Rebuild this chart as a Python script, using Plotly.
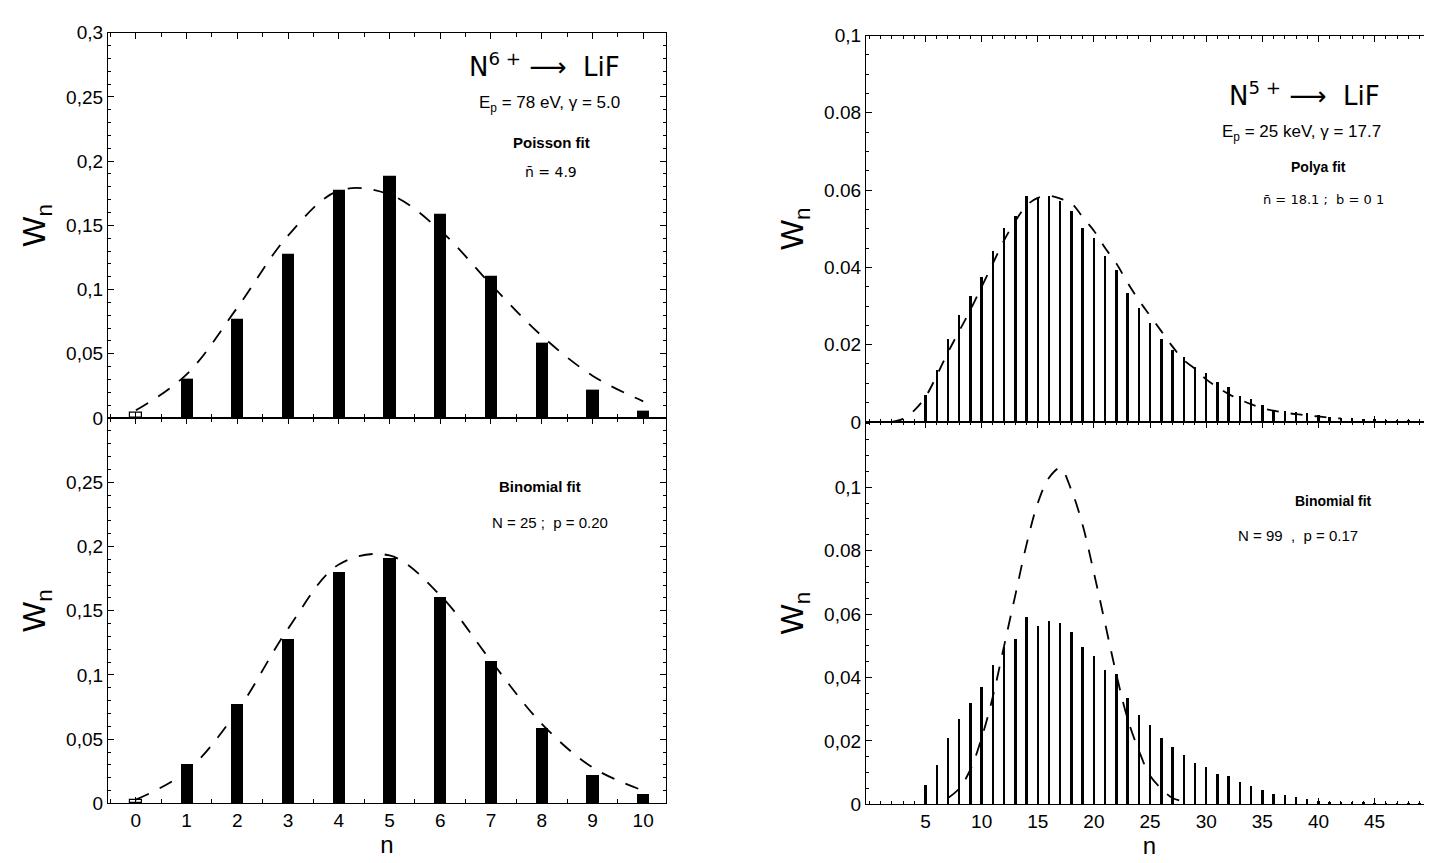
import plotly.graph_objects as go

# ---------------- data ----------------
n_left = [0, 1, 2, 3, 4, 5, 6, 7, 8, 9, 10]
w_left_top = [0.004, 0.031, 0.077, 0.128, 0.178, 0.189, 0.159, 0.111, 0.059, 0.022, 0.006]
w_left_bot = [0.003, 0.031, 0.077, 0.128, 0.180, 0.191, 0.161, 0.111, 0.059, 0.022, 0.007]
poisson_fit = [0.006, 0.034, 0.086, 0.142, 0.177, 0.174, 0.146, 0.104, 0.064, 0.033, 0.013]
binom25_fit = [0.003, 0.025, 0.072, 0.136, 0.186, 0.193, 0.162, 0.111, 0.062, 0.028, 0.010]

n_right = list(range(5, 50))
w_right_top = [0.0071, 0.0136, 0.0217, 0.0278, 0.0326, 0.0376, 0.0444, 0.0502, 0.0533, 0.0586,
               0.0581, 0.0586, 0.0574, 0.0548, 0.0502, 0.0477, 0.0431, 0.0394, 0.0334, 0.0296,
               0.0258, 0.0217, 0.0187, 0.0169, 0.0144, 0.0129, 0.0104, 0.0091, 0.0069, 0.0061,
               0.0044, 0.0031, 0.0030, 0.0027, 0.0023, 0.0020, 0.0013, 0.0012, 0.0011, 0.0009,
               0.0008, 0.0006, 0.0005, 0.0005, 0.0004]
w_right_bot = [0.0062, 0.0126, 0.0209, 0.0271, 0.0320, 0.0370, 0.0440, 0.0498, 0.0523, 0.0590,
               0.0563, 0.0580, 0.0572, 0.0544, 0.0496, 0.0468, 0.0424, 0.0412, 0.0335, 0.0283,
               0.0252, 0.0209, 0.0180, 0.0157, 0.0132, 0.0117, 0.0096, 0.0090, 0.0071, 0.0057,
               0.0047, 0.0034, 0.0031, 0.0022, 0.0017, 0.0011, 0.0009, 0.0008, 0.0008, 0.0007,
               0.0006, 0.0005, 0.0004, 0.0004, 0.0003]

n_polya = list(range(2, 43))
polya_fit = [0.0, 0.0008, 0.003, 0.0065, 0.012, 0.018, 0.0235, 0.029, 0.035, 0.041,
             0.047, 0.052, 0.056, 0.058, 0.0585, 0.0578, 0.0566, 0.053, 0.0495, 0.045,
             0.041, 0.036, 0.0315, 0.0275, 0.0235, 0.0195, 0.016, 0.0138, 0.011, 0.009,
             0.0072, 0.0058, 0.0046, 0.0036, 0.0029, 0.0024, 0.002, 0.0017, 0.0014, 0.0011,
             0.0009]

n_binom99 = list(range(7, 29))
binom99_fit = [0.002, 0.005, 0.011, 0.021, 0.034, 0.050, 0.066, 0.082, 0.095, 0.103,
               0.106, 0.099, 0.088, 0.073, 0.057, 0.041, 0.027, 0.017, 0.009, 0.005,
               0.002, 0.001]

left_y_vals = [0, 0.05, 0.1, 0.15, 0.2, 0.25, 0.3]
left_y_text = ["0", "0,05", "0,1", "0,15", "0,2", "0,25", "0,3"]
left_y_vals_bot = [0, 0.05, 0.1, 0.15, 0.2, 0.25]
left_y_text_bot = ["0", "0,05", "0,1", "0,15", "0,2", "0,25"]
right_y_vals = [0, 0.02, 0.04, 0.06, 0.08, 0.1]
right_y_text_top = ["0", "0.02", "0.04", "0.06", "0.08", "0,1"]
right_y_text_bot = ["0", "0,02", "0,04", "0,06", "0.08", "0,1"]
left_x_ticks = [0, 1, 2, 3, 4, 5, 6, 7, 8, 9, 10]
right_x_ticks = [5, 10, 15, 20, 25, 30, 35, 40, 45]

# ---------------- figure ----------------
FONT = "Liberation Sans, Arial, sans-serif"
DFONT = "DejaVu Sans, sans-serif"
W, H = 1432, 863

fig = go.Figure()

def left_bar_colors(vals):
    return ["white"] + ["black"] * (len(vals) - 1)

for vals, fit, xa, ya in [(w_left_top, poisson_fit, "x", "y"),
                          (w_left_bot, binom25_fit, "x2", "y2")]:
    fig.add_trace(go.Bar(x=n_left, y=vals, width=0.24, xaxis=xa, yaxis=ya,
                         marker=dict(color=left_bar_colors(vals),
                                     line=dict(color="black", width=[1.2] + [0] * (len(vals) - 1))),
                         showlegend=False))
    fig.add_trace(go.Scatter(x=n_left, y=fit, mode="lines", xaxis=xa, yaxis=ya,
                             line=dict(color="black", width=1.8, dash="14px,12px", shape="spline"),
                             showlegend=False))

for vals, xa, ya in [(w_right_top, "x3", "y3"), (w_right_bot, "x4", "y4")]:
    fig.add_trace(go.Bar(x=n_right, y=vals, width=0.22, xaxis=xa, yaxis=ya,
                         marker=dict(color="black", line=dict(width=0)),
                         showlegend=False))

fig.add_trace(go.Scatter(x=n_polya, y=polya_fit, mode="lines", xaxis="x3", yaxis="y3",
                         line=dict(color="black", width=1.8, dash="12px,12px", shape="spline"),
                         showlegend=False))
fig.add_trace(go.Scatter(x=n_binom99, y=binom99_fit, mode="lines", xaxis="x4", yaxis="y4",
                         line=dict(color="black", width=1.8, dash="14px,12px", shape="spline"),
                         showlegend=False))

def px_x(p):
    return p / W

def px_y(p):
    return 1 - p / H

axis_common = dict(showline=True, linecolor="black", linewidth=1.2, mirror="ticks",
                   ticks="inside", tickcolor="black", ticklen=6, showgrid=False,
                   zeroline=False, tickfont=dict(family=FONT, size=19, color="black"))

ytitle = dict(text="W<sub>n</sub>", font=dict(family=FONT, size=32), standoff=10)

dom_lx = [px_x(100), px_x(658)]
dom_rx = [px_x(858), px_x(1425)]

fig.update_layout(
    width=W, height=H,
    margin=dict(l=0, r=0, t=0, b=0),
    paper_bgcolor="white", plot_bgcolor="white",
    bargap=0,
    font=dict(family=FONT, color="black"),
    xaxis=dict(domain=dom_lx, anchor="y", range=[-0.55, 10.45], tickvals=left_x_ticks,
               showticklabels=False, minor=dict(ticks="inside", dtick=0.5, ticklen=4, tickcolor="black"),
               **axis_common),
    yaxis=dict(domain=[px_y(410), px_y(15)], anchor="x", range=[0, 0.3],
               tickvals=left_y_vals, ticktext=left_y_text,
               minor=dict(ticks="inside", dtick=0.01, ticklen=3, tickcolor="black"),
               title=ytitle, **axis_common),
    xaxis2=dict(domain=dom_lx, anchor="y2", range=[-0.55, 10.45], tickvals=left_x_ticks,
                ticktext=[str(v) for v in left_x_ticks],
                minor=dict(ticks="inside", dtick=0.5, ticklen=4, tickcolor="black"),
                title=dict(text="n", font=dict(family=FONT, size=24), standoff=0),
                **axis_common),
    yaxis2=dict(domain=[px_y(805), px_y(410)], anchor="x2", range=[0, 0.3],
                tickvals=left_y_vals_bot, ticktext=left_y_text_bot,
                minor=dict(ticks="inside", dtick=0.01, ticklen=3, tickcolor="black"),
                title=ytitle, **axis_common),
    xaxis3=dict(domain=dom_rx, anchor="y3", range=[-0.3, 50.2], tickvals=right_x_ticks,
                showticklabels=False, minor=dict(ticks="inside", dtick=1, ticklen=3, tickcolor="black"),
                **axis_common),
    yaxis3=dict(domain=[px_y(414), px_y(18)], anchor="x3", range=[0, 0.1],
                tickvals=right_y_vals, ticktext=right_y_text_top,
                minor=dict(ticks="inside", dtick=0.005, ticklen=3, tickcolor="black"),
                title=ytitle, **axis_common),
    xaxis4=dict(domain=dom_rx, anchor="y4", range=[-0.3, 50.2], tickvals=right_x_ticks,
                ticktext=[str(v) for v in right_x_ticks],
                minor=dict(ticks="inside", dtick=1, ticklen=3, tickcolor="black"),
                title=dict(text="n", font=dict(family=FONT, size=24), standoff=0),
                **axis_common),
    yaxis4=dict(domain=[px_y(806), px_y(414)], anchor="x4", range=[0, 0.1206],
                tickvals=right_y_vals, ticktext=right_y_text_bot,
                minor=dict(ticks="inside", dtick=0.005, ticklen=3, tickcolor="black"),
                title=ytitle, **axis_common),
)

def note(text, cx, cy, size, bold=False, family=FONT):
    fig.add_annotation(x=px_x(cx), y=px_y(cy), xref="paper", yref="paper",
                       text=("<b>%s</b>" % text) if bold else text, showarrow=False,
                       xanchor="center", yanchor="middle",
                       font=dict(family=family, size=size, color="black"))

ARROW = "\u27f6"
# top-left
note("N<sup>6 +</sup> " + ARROW + "  LiF", 536, 48, 26, family=DFONT)
note("E<sub>p</sub> = 78 eV, \u03b3 = 5.0", 541, 88, 17)
note("Poisson fit", 543, 128, 15, bold=True)
note("n\u0304 = 4.9", 543, 158, 14, family=DFONT)
# bottom-left
note("Binomial fit", 532, 480, 15, bold=True)
note("N = 25 ;  p = 0.20", 542, 517, 15)
# top-right
note("N<sup>5 +</sup> " + ARROW + "  LiF", 1296, 78, 26, family=DFONT)
note("E<sub>p</sub> = 25 keV, \u03b3 = 17.7", 1293, 118, 17)
note("Polya fit", 1310, 153, 14, bold=True)
note("n\u0304 = 18.1 ;  b = 0 1", 1315, 186, 13, family=DFONT)
# bottom-right
note("Binomial fit", 1325, 495, 14, bold=True)
note("N = 99  ,  p = 0.17", 1290, 530, 15)

fig.write_html("out.html")
